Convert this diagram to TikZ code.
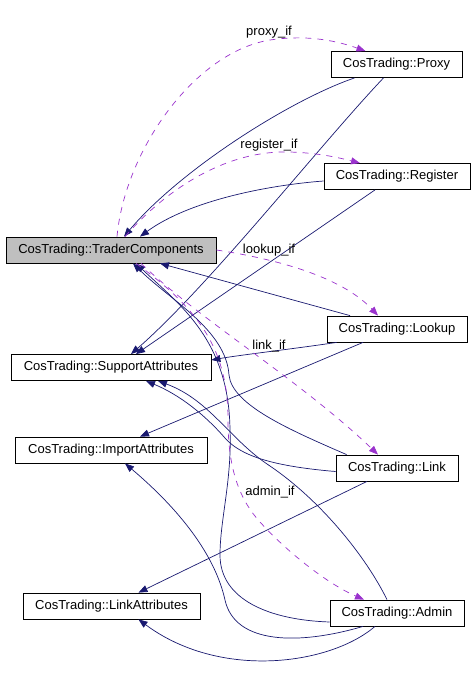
\documentclass[tikz,border=0pt]{standalone}
\usepackage{fontspec}
\setmainfont{Liberation Sans}
\usetikzlibrary{calc}
\usetikzlibrary{arrows.meta}
\definecolor{edgeblue}{HTML}{191970}
\definecolor{edgepurple}{HTML}{9A32CD}
\definecolor{nodegrey}{HTML}{BFBFBF}

\begin{document}
\begin{tikzpicture}[x=1pt,y=-1pt,font=\fontsize{13}{15}\selectfont,
  cls/.style={draw=black, inner sep=0pt, minimum height=26pt, line width=0.8pt},
  uses/.style={edgeblue, line width=0.7pt, -{Triangle[length=9pt,width=7pt]}},
  member/.style={edgepurple, line width=0.7pt, dash pattern=on 6pt off 6pt, -{Triangle[length=9pt,width=7pt]}}]
\useasboundingbox (0,0) rectangle (475,697);
% classes
\node[cls, fill=nodegrey, minimum width=210pt] (tc) at (111,250) {CosTrading::TraderComponents};
\node[cls, minimum width=131pt] (proxy) at (396.5,64.5) {CosTrading::Proxy};
\node[cls, minimum width=146pt] (register) at (397,176.5) {CosTrading::Register};
\node[cls, minimum width=140pt] (lookup) at (397,329) {CosTrading::Lookup};
\node[cls, minimum width=200pt] (sa) at (111,367.5) {CosTrading::SupportAttributes};
\node[cls, minimum width=192pt] (ia) at (111,450) {CosTrading::ImportAttributes};
\node[cls, minimum width=122pt] (link) at (397,468) {CosTrading::Link};
\node[cls, minimum width=177pt] (la) at (111.5,606) {CosTrading::LinkAttributes};
\node[cls, minimum width=134pt] (admin) at (397,613) {CosTrading::Admin};
% inheritance-like edges
\draw[uses] ($(proxy.south west)+(24,0)$) .. controls (290,100) and (180,170) .. ($(tc.north)+(13,0)$);
\draw[uses] ($(proxy.south)+(-13,0)$) .. controls (320,145) and (210,285) .. ($(sa.north)+(20,0)$);
\draw[uses] ($(register.west)+(0,4.5)$) .. controls (270,185) and (190,200) .. ($(tc.north)+(29,0)$);
\draw[uses] ($(register.south)+(-22,0)$) -- ($(sa.north)+(25,0)$);
\draw[uses] ($(lookup.north)+(-47,0)$) -- ($(tc.south)+(49,0)$);
\draw[uses] ($(lookup.south west)+(10,0)$) .. controls (300,348) and (240,355) .. ($(sa.east)+(0,-7.5)$);
\draw[uses] ($(lookup.south)+(-34,0)$) -- ($(ia.north)+(29,0)$);
\draw[uses] ($(link.north west)+(11,0)$) .. controls (290,430) and (232,405) .. (229,375) .. controls (226,330) and (170,300) .. ($(tc.south)+(22,0)$);
\draw[uses] ($(link.west)+(0,3.5)$) .. controls (270,466) and (240,455) .. (225,438) .. controls (205,415) and (180,395) .. ($(sa.south)+(35,0)$);
\draw[uses] ($(link.south)+(-30,0)$) -- ($(la.north)+(27,0)$);
\draw[uses] ($(admin.west)+(0,9)$) .. controls (270,620) and (220,600) .. (220,555) .. controls (220,520) and (232,480) .. (230,430) .. controls (229,340) and (180,305) .. ($(tc.south)+(25,0)$);
\draw[uses] ($(admin.north)+(-10,0)$) .. controls (365,555) and (320,500) .. (270,466) .. controls (230,440) and (210,400) .. ($(sa.south)+(47,0)$);
\draw[uses] ($(admin.south)+(-34,0)$) .. controls (300,645) and (235,645) .. (225,600) .. controls (215,555) and (180,510) .. ($(ia.south)+(14,0)$);
\draw[uses] ($(admin.south)+(-22,0)$) .. controls (330,665) and (220,680) .. ($(la.south)+(27,0)$);
% member edges
\draw[member] ($(tc.north)+(6,0)$) .. controls (125,150) and (195,52) .. (270,40) .. controls (310,34) and (340,42) .. ($(proxy.north)+(-31,0)$);
\draw[member] ($(tc.north)+(14,0)$) .. controls (170,185) and (230,150) .. (290,152) .. controls (320,153) and (340,158) .. ($(register.north)+(-37,0)$);
\draw[member] (tc.east) .. controls (270,258) and (340,275) .. ($(lookup.north)+(-19,0)$);
\draw[member] ($(tc.south)+(30,0)$) .. controls (200,320) and (300,380) .. ($(link.north)+(-19,0)$);
\draw[member] ($(tc.south)+(25,0)$) .. controls (200,310) and (228,350) .. (228,420) .. controls (228,470) and (240,500) .. (260,522) .. controls (290,555) and (330,585) .. ($(admin.north)+(-33,0)$);
% labels
\node (lproxy) at (269,32) {proxy\_if};
\node (lregister) at (269,145) {register\_if};
\node (llookup) at (269,250) {lookup\_if};
\node (llink) at (269,346) {link\_if};
\node (ladmin) at (270,492) {admin\_if};
\end{tikzpicture}
\end{document}
